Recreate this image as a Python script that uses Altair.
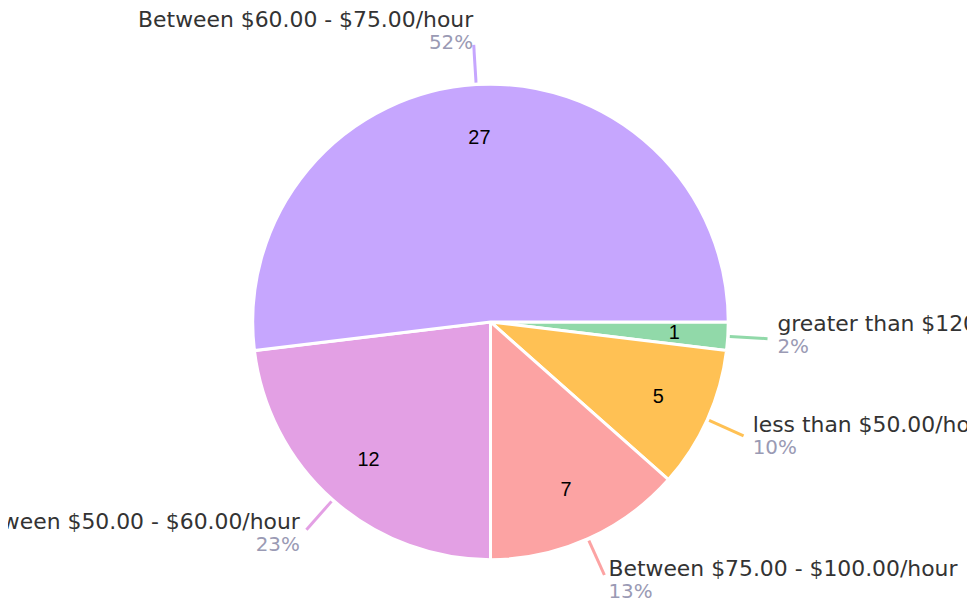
import math
import altair as alt
import pandas as pd

categories = [
    "greater than $120.00/hour",
    "less than $50.00/hour",
    "Between $75.00 - $100.00/hour",
    "Between $50.00 - $60.00/hour",
    "Between $60.00 - $75.00/hour",
]
counts = [1, 5, 7, 12, 27]
colors = ["#91D9A9", "#FFC154", "#FCA3A3", "#E3A0E4", "#C6A6FE"]

df = pd.DataFrame({"category": categories, "count": counts, "order": list(range(len(counts)))})

W, H = 964, 594
CX, CY = 485, 314
R = 239
R_NUM = 185
R_L1, R_L2 = 241, 279
R_LAB = 289

color_scale = alt.Scale(domain=categories, range=colors)

base = (
    alt.Chart(df)
    .transform_joinaggregate(total="sum(count)")
    .transform_window(cum="sum(count)", sort=[alt.SortField("order")], frame=[None, 0])
    .transform_calculate(
        mid="PI/2 + 2*PI*(datum.cum - datum.count/2)/datum.total",
        pct="round(100*datum.count/datum.total) + '%'",
    )
    .transform_calculate(
        nx=f"{CX} + {R_NUM}*sin(datum.mid)",
        ny=f"{CY} - {R_NUM}*cos(datum.mid)",
        x1=f"{CX} + {R_L1}*sin(datum.mid)",
        y1=f"{CY} - {R_L1}*cos(datum.mid)",
        x2=f"{CX} + {R_L2}*sin(datum.mid)",
        y2=f"{CY} - {R_L2}*cos(datum.mid)",
        lx=f"{CX} + {R_LAB}*sin(datum.mid)",
        ly=f"{CY} - {R_LAB}*cos(datum.mid)",
        side="sin(datum.mid) >= 0 ? 'right' : 'left'",
    )
)

arcs = alt.Chart(df).mark_arc(outerRadius=R, stroke="white", strokeWidth=3).encode(
    theta=alt.Theta("count:Q", stack=True,
                    scale=alt.Scale(range=[math.pi / 2, math.pi / 2 + 2 * math.pi])),
    color=alt.Color("category:N", scale=color_scale, legend=None),
    order=alt.Order("order:Q"),
    x=alt.value(CX),
    y=alt.value(CY),
)

nums = base.mark_text(fontSize=20, font="Liberation Sans", color="black",
                      align="center", baseline="middle").encode(
    x=alt.X("nx:Q", scale=None),
    y=alt.Y("ny:Q", scale=None),
    text="count:Q",
)

lines = base.mark_rule(strokeWidth=3).encode(
    x=alt.X("x1:Q", scale=None),
    y=alt.Y("y1:Q", scale=None),
    x2="x2:Q",
    y2="y2:Q",
    color=alt.Color("category:N", scale=color_scale, legend=None),
)

layers = [arcs, lines, nums]
for side, align in [("right", "left"), ("left", "right")]:
    sb = base.transform_filter(f"datum.side == '{side}'")
    layers.append(
        sb.mark_text(fontSize=22, font="DejaVu Sans", color="#333333", align=align,
                     baseline="middle", dy=-15, clip=True).encode(
            x=alt.X("lx:Q", scale=None), y=alt.Y("ly:Q", scale=None), text="category:N")
    )
    layers.append(
        sb.mark_text(fontSize=20, font="DejaVu Sans", color="#9A9AB4", align=align,
                     baseline="middle", dy=8, clip=True).encode(
            x=alt.X("lx:Q", scale=None), y=alt.Y("ly:Q", scale=None), text="pct:N")
    )

chart = (
    alt.layer(*layers)
    .properties(width=W, height=H, padding=0, autosize=alt.AutoSizeParams(type="none"))
    .configure_view(stroke=None)
)

chart.save("out.html", embed_options={"renderer": "svg", "actions": False})
